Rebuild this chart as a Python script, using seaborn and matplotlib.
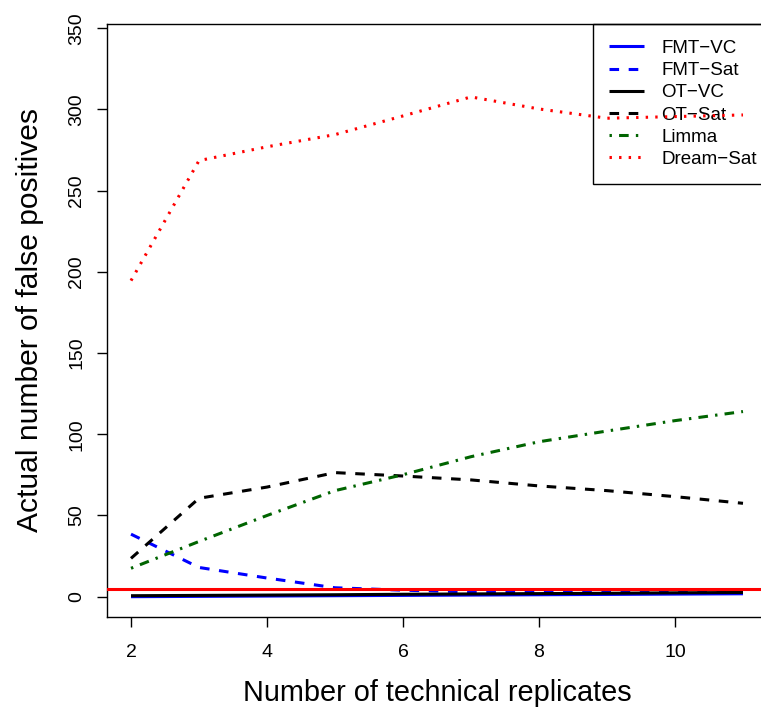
import numpy as np
import pandas as pd
import matplotlib
matplotlib.use("Agg")
import matplotlib.pyplot as plt
import seaborn as sns

# ---- data ----
replicates = [2, 3, 4, 5, 6, 7, 8, 9, 10, 11]
fmt_vc = [0.0, 0.2, 0.4, 0.6, 0.8, 1.0, 1.2, 1.4, 1.6, 1.8]
fmt_sat = [38.5, 18.0, 11.5, 5.5, 4.0, 3.0, 3.0, 3.3, 3.5, 3.7]
ot_vc = [0.6, 0.8, 1.0, 1.2, 1.5, 1.7, 1.9, 2.1, 2.4, 2.6]
ot_sat = [23.6, 60.6, 67.5, 76.4, 74.3, 71.9, 68.2, 65.3, 61.6, 57.5]
limma = [17.5, 34.0, 50.0, 65.3, 75.1, 86.2, 95.4, 102.0, 108.4, 114.0]
dream_sat = [194.6, 268.5, 277.0, 284.5, 296.0, 307.7, 300.3, 294.6, 295.6, 296.6]
series_names = ["FMT−VC", "FMT−Sat", "OT−VC", "OT−Sat", "Limma", "Dream−Sat"]
threshold = 5
x_ticks = [2, 4, 6, 8, 10]
y_ticks = [0, 50, 100, 150, 200, 250, 300, 350]

df = pd.DataFrame({
    "x": replicates * 6,
    "y": fmt_vc + fmt_sat + ot_vc + ot_sat + limma + dream_sat,
    "series": sum([[n] * len(replicates) for n in series_names], []),
})

sns.set_style("ticks")
plt.rcParams["font.family"] = ["Liberation Sans", "DejaVu Sans"]
plt.rcParams["text.color"] = "black"
plt.rcParams["axes.labelcolor"] = "black"
plt.rcParams["xtick.color"] = "black"
plt.rcParams["ytick.color"] = "black"

fig = plt.figure(figsize=(7.61, 7.08), dpi=100)
ax = fig.add_axes([107 / 761, (708 - 617) / 708, (767 - 107) / 761, (617 - 24) / 708])

lw = 2.2
dashed = (0, (3.14, 3.14))
dotted = (0, (0.785, 2.35))
dotdash = (0, (0.785, 2.35, 3.14, 2.35))
styles = {
    "FMT−VC": ("#0000FF", "-"),
    "FMT−Sat": ("#0000FF", dashed),
    "OT−VC": ("#000000", "-"),
    "OT−Sat": ("#000000", dashed),
    "Limma": ("#006400", dotdash),
    "Dream−Sat": ("#FF0000", dotted),
}

handles = []
for name in series_names:
    col, ls = styles[name]
    sub = df[df["series"] == name]
    n_before = len(ax.lines)
    sns.lineplot(data=sub, x="x", y="y", ax=ax, color=col, linestyle=ls,
                 linewidth=lw, legend=False, zorder=3, estimator=None)
    line = ax.lines[n_before]
    line.set_dash_capstyle("butt")
    line.set_solid_capstyle("butt")
    handles.append(line)

ax.axhline(threshold, color="#FF0000", linewidth=lw, zorder=3)

ax.set_xlim(1.647, 11.353)
ax.set_ylim(-12.5, 352.6)
ax.set_xticks(x_ticks)
ax.set_yticks(y_ticks)
ax.set_xticklabels([str(v) for v in x_ticks])
ax.set_yticklabels([str(v) for v in y_ticks], rotation=90, va="center")

for s in ax.spines.values():
    s.set_visible(True)
    s.set_linewidth(1.0)
    s.set_color("black")

ax.tick_params(axis="both", direction="out", length=7.5, width=1.0,
               labelsize=14, colors="black")
ax.tick_params(axis="x", pad=12)
ax.tick_params(axis="y", pad=8)

ax.set_xlabel("Number of technical replicates", fontsize=20.8)
ax.set_ylabel("Actual number of false positives", fontsize=21.6)
ax.xaxis.set_label_coords(0.5, -0.104)
ax.yaxis.set_label_coords(-0.095, 0.5)

leg = ax.legend(handles, series_names, loc="upper right", bbox_to_anchor=(1.009, 1),
                borderaxespad=0, fontsize=13.5, frameon=True, fancybox=False,
                framealpha=1, edgecolor="black", handlelength=1.86,
                handletextpad=0.94, borderpad=0.85, labelspacing=0.27)
leg.get_frame().set_linewidth(1.0)
leg.set_zorder(2)

fig.savefig("out.png", dpi=100)
